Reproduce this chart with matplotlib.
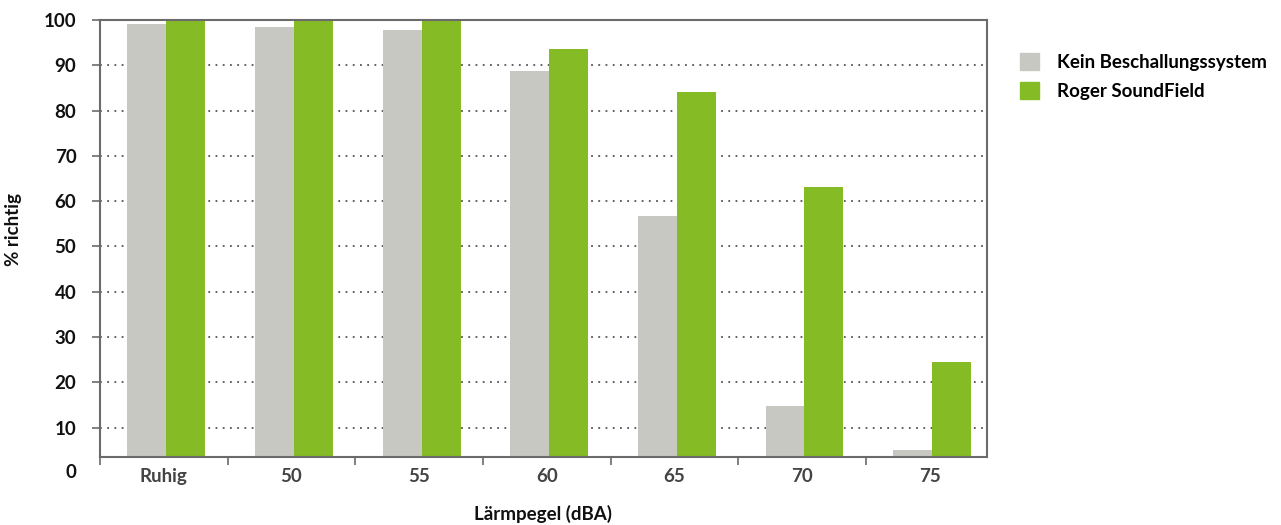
import matplotlib.pyplot as plt
import numpy as np

categories = ["Ruhig", "50", "55", "60", "65", "70", "75"]
kein = [99.2, 98.4, 97.7, 88.7, 56.7, 14.8, 5.0]
roger = [100, 100, 100, 93.5, 84.0, 63.1, 24.5]
series_names = ["Kein Beschallungssystem", "Roger SoundField"]
yticks = [10, 20, 30, 40, 50, 60, 70, 80, 90, 100]

GRAY = "#c8c8c3"
GREEN = "#85bb24"
AXC = "#6b6b6b"

plt.rcParams['font.family'] = ['Lato', 'DejaVu Sans']

fig = plt.figure(figsize=(12.81, 5.25), dpi=100)
ax = fig.add_axes([100 / 1281, 1 - 457 / 525, 887 / 1281, 437 / 525])

x = np.arange(len(categories))
w = 0.305
ax.bar(x - w / 2 + 0.02, kein, w, color=GRAY, zorder=2)
ax.bar(x + w / 2 + 0.02, roger, w, color=GREEN, zorder=2)

ax.set_xlim(-0.5, 6.45)
ax.set_ylim(3.5, 100)

ax.set_yticks(yticks)
ax.set_yticklabels([str(t) for t in yticks], fontsize=13.5, fontweight='bold', color='#111111')
# the "0" sits below the clipped axis, in the tick label column
ax.text(-0.5 - 24 / 127.6, 0, "0", ha='right', va='center',
        fontsize=13.5, fontweight='bold', color='#111111', clip_on=False)

for t in yticks[:-1]:
    ax.axhline(t, color='#555555', linestyle=(0, (1, 3)), linewidth=1.3, zorder=1)

ax.set_xticks(x)
ax.set_xticklabels(categories, fontsize=13.5, fontweight='bold', color='#444444')
ax.set_xticks(np.arange(-0.5, 6.5, 1.0), minor=True)
ax.tick_params(axis='x', which='major', length=0, pad=8)
ax.tick_params(axis='x', which='minor', length=6, width=1.2, color=AXC, direction='out')
ax.tick_params(axis='y', length=6, width=1.2, color=AXC, pad=11)

for s in ax.spines.values():
    s.set_color(AXC)
    s.set_linewidth(1.5)

ax.set_ylabel("% richtig", fontsize=13.5, fontweight='bold', color='#111111')
ax.yaxis.set_label_coords(-78 / 887, 0.52)
ax.set_xlabel("Lärmpegel (dBA)", fontsize=13.5, fontweight='bold', color='#111111')
ax.xaxis.set_label_coords(0.5, -48 / 437)

handles = [plt.Rectangle((0, 0), 1, 1, color=GRAY), plt.Rectangle((0, 0), 1, 1, color=GREEN)]
fig.legend(handles, series_names, loc='upper left', bbox_to_anchor=(1003 / 1281, 1 - 36 / 525),
           frameon=False, handlelength=1.0, handleheight=1.0,
           handletextpad=1.0, labelspacing=0.6,
           prop={'weight': 'bold', 'size': 13.5})

fig.savefig("out.png", dpi=100)
